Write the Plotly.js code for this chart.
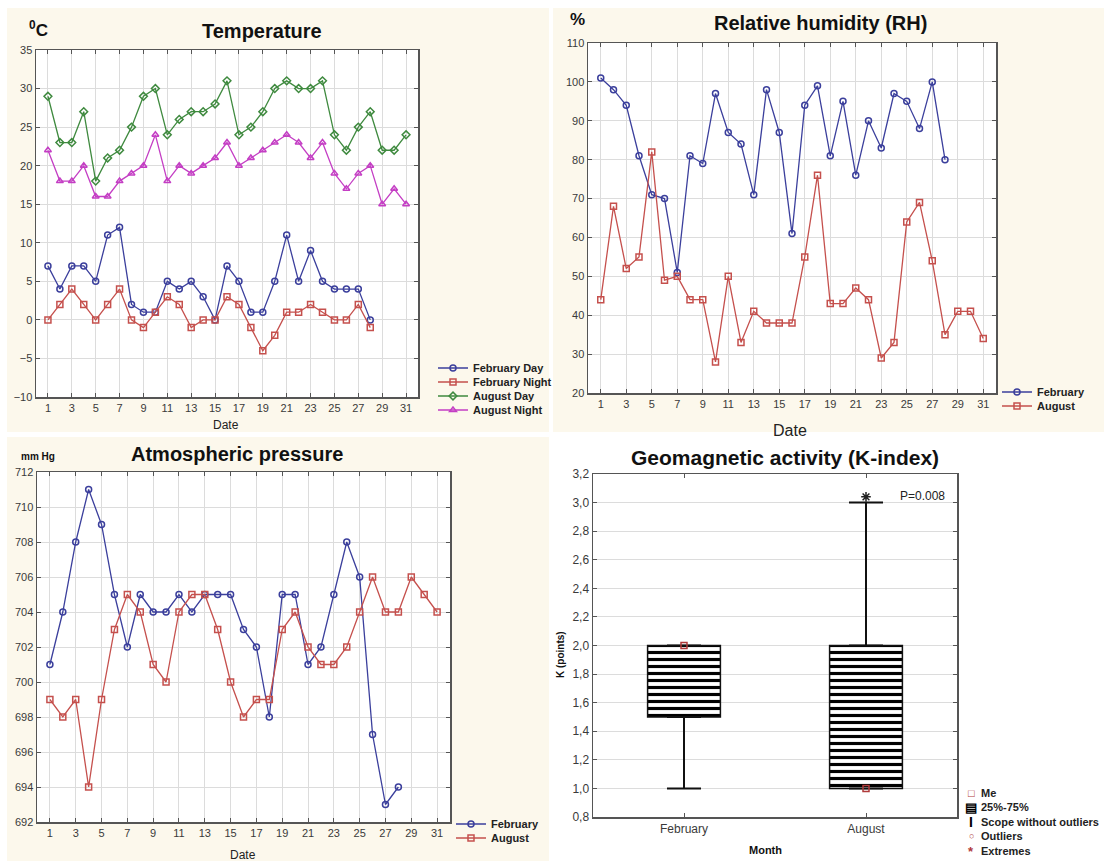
<!DOCTYPE html>
<html>
<head>
<meta charset="utf-8">
<script src="https://cdn.plot.ly/plotly-3.0.1.min.js"></script>
<style>html,body{margin:0;padding:0;background:#fff;}#chart{width:1104px;height:861px;}</style>
</head>
<body>
<div id="chart"></div>
<script>
// ---------- DATA ----------
const dates = [1,2,3,4,5,6,7,8,9,10,11,12,13,14,15,16,17,18,19,20,21,22,23,24,25,26,27,28,29,30,31];
const febDates = [1,2,3,4,5,6,7,8,9,10,11,12,13,14,15,16,17,18,19,20,21,22,23,24,25,26,27,28];

// Temperature, °C
const tempFebDay   = [7,4,7,7,5,11,12,2,1,1,5,4,5,3,0,7,5,1,1,5,11,5,9,5,4,4,4,0];
const tempFebNight = [0,2,4,2,0,2,4,0,-1,1,3,2,-1,0,0,3,2,-1,-4,-2,1,1,2,1,0,0,2,-1];
const tempAugDay   = [29,23,23,27,18,21,22,25,29,30,24,26,27,27,28,31,24,25,27,30,31,30,30,31,24,22,25,27,22,22,24];
const tempAugNight = [22,18,18,20,16,16,18,19,20,24,18,20,19,20,21,23,20,21,22,23,24,23,21,23,19,17,19,20,15,17,15];

// Relative humidity, %
const rhFeb = [101,98,94,81,71,70,51,81,79,97,87,84,71,98,87,61,94,99,81,95,76,90,83,97,95,88,100,80];
const rhAug = [44,68,52,55,82,49,50,44,44,28,50,33,41,38,38,38,55,76,43,43,47,44,29,33,64,69,54,35,41,41,34];

// Atmospheric pressure, mm Hg
const prFeb = [701,704,708,711,709,705,702,705,704,704,705,704,705,705,705,703,702,698,705,705,701,702,705,708,706,697,693,694];
const prAug = [699,698,699,694,699,703,705,704,701,700,704,705,705,703,700,698,699,699,703,704,702,701,701,702,704,706,704,704,706,705,704];

// Geomagnetic activity (K-index), box summary
const kMonths  = ['February','August'];
const kMin     = [1.0, 1.0];
const kQ1      = [1.5, 1.0];
const kMedian  = [2.0, 1.0];
const kQ3      = [2.0, 2.0];
const kMax     = [2.0, 3.0];
const kExtremeMonths = ['August'];
const kExtremes      = [3.04];

// ---------- STYLE ----------
const W = 1104, H = 861;
const X = v => v / W;
const Y = v => 1 - v / H;
const FONT = 'Liberation Sans, Arial, sans-serif';
const TICKFONT = {family: FONT, size: 11, color: '#3a3a3a'};
const CREAM = '#fcf8ec';
const BLUE = '#3b3f9c', RED = '#c5504d', GREEN = '#3f8a3f', MAGENTA = '#c43ec4';

function axisBase(extra) {
  return Object.assign({
    showline: true, linecolor: '#555', linewidth: 1.5, mirror: 'ticks',
    ticks: 'inside', ticklen: 4, tickcolor: '#555', tickwidth: 1,
    showgrid: true, gridcolor: '#dcdcdc', gridwidth: 1, zeroline: false,
    tickfont: TICKFONT, fixedrange: true
  }, extra);
}

function line(x, y, name, color, symbol, xa, ya, legendId) {
  return {
    type: 'scatter', mode: 'lines+markers', x: x, y: y, name: name,
    xaxis: xa, yaxis: ya, legend: legendId,
    line: {color: color, width: 1.3},
    marker: {symbol: symbol, size: 6, color: color, line: {color: color, width: 1.5}},
    cliponaxis: false
  };
}

const traces = [
  line(febDates, tempFebDay,   'February Day',   BLUE,    'circle-open',      'x',  'y',  'legend'),
  line(febDates, tempFebNight, 'February Night', RED,     'square-open',      'x',  'y',  'legend2'),
  line(dates,    tempAugDay,   'August Day',     GREEN,   'diamond-open',     'x',  'y',  'legend3'),
  line(dates,    tempAugNight, 'August Night',   MAGENTA, 'triangle-up-open', 'x',  'y',  'legend4'),
  line(febDates, rhFeb, 'February', BLUE, 'circle-open', 'x2', 'y2', 'legend5'),
  line(dates,    rhAug, 'August',   RED,  'square-open', 'x2', 'y2', 'legend6'),
  line(febDates, prFeb, 'February', BLUE, 'circle-open', 'x3', 'y3', 'legend7'),
  line(dates,    prAug, 'August',   RED,  'square-open', 'x3', 'y3', 'legend8'),
  // K-index box (25%-75%) as hatched bars
  {
    type: 'bar', x: kMonths, base: kQ1, y: kQ3.map((v, i) => v - kQ1[i]),
    xaxis: 'x4', yaxis: 'y4', width: 0.4, showlegend: false,
    marker: {color: '#ffffff', line: {color: '#111', width: 1.5},
             pattern: {shape: '-', fgcolor: '#000', bgcolor: '#fff', size: 7, solidity: 0.45, fillmode: 'replace'}}
  },
  // upper whiskers
  {
    type: 'scatter', mode: 'markers', x: kMonths, y: kQ3, xaxis: 'x4', yaxis: 'y4', showlegend: false,
    marker: {size: 1, color: 'rgba(0,0,0,0)'},
    error_y: {type: 'data', symmetric: false, array: kMax.map((v, i) => v - kQ3[i]), arrayminus: kQ3.map(() => 0),
              width: 17, thickness: 2, color: '#111'}
  },
  // lower whiskers
  {
    type: 'scatter', mode: 'markers', x: kMonths, y: kQ1, xaxis: 'x4', yaxis: 'y4', showlegend: false,
    marker: {size: 1, color: 'rgba(0,0,0,0)'},
    error_y: {type: 'data', symmetric: false, array: kQ1.map(() => 0), arrayminus: kQ1.map((v, i) => v - kMin[i]),
              width: 17, thickness: 2, color: '#111'}
  },
  // medians
  {
    type: 'scatter', mode: 'markers', x: kMonths, y: kMedian, xaxis: 'x4', yaxis: 'y4', showlegend: false,
    marker: {symbol: 'square-open', size: 6, color: '#b03a3a', line: {width: 1.5, color: '#b03a3a'}}
  },
  // extremes
  {
    type: 'scatter', mode: 'markers', x: kExtremeMonths, y: kExtremes, xaxis: 'x4', yaxis: 'y4', showlegend: false,
    marker: {symbol: 'asterisk-open', size: 8, color: '#222', line: {width: 1.5, color: '#222'}}
  }
];

function legendAt(xPx, yPx) {
  return {x: X(xPx), y: Y(yPx), xanchor: 'left', yanchor: 'middle', bgcolor: 'rgba(0,0,0,0)',
          borderwidth: 0, font: {family: FONT, size: 11, color: '#222', weight: 'bold'}, itemclick: false, itemdoubleclick: false};
}

function ann(text, xPx, yPx, size, opts) {
  return Object.assign({text: text, x: X(xPx), y: Y(yPx), xref: 'paper', yref: 'paper', showarrow: false,
    xanchor: 'center', yanchor: 'middle', font: {family: FONT, size: size, color: '#111'}}, opts || {});
}
const bold = (size, color) => ({family: FONT, size: size, color: color || '#111', weight: 'bold'});

const kLegendItems = [
  {sym: '□', color: '#b03a3a', text: 'Me', y: 793, size: 11},
  {sym: '▤', color: '#000', text: '25%-75%', y: 807, size: 13},
  {sym: 'I', color: '#000', text: 'Scope without outliers', y: 822, size: 14},
  {sym: '○', color: '#b03a3a', text: 'Outliers', y: 836, size: 9},
  {sym: '*', color: '#b03a3a', text: 'Extremes', y: 851, size: 13}
];

const annotations = [
  ann('Temperature', 262, 31, 20, {font: bold(20)}),
  ann('<sup>0</sup>C', 38, 29, 17, {font: bold(17), xanchor: 'center'}),
  ann('Relative humidity (RH)', 820, 23, 20, {font: bold(20)}),
  ann('%', 577, 19, 17, {font: bold(17)}),
  ann('Atmospheric pressure', 237, 454, 20, {font: bold(20)}),
  ann('mm Hg', 38, 456, 10, {font: bold(10)}),
  ann('Geomagnetic activity (K-index)', 785, 458, 21, {font: bold(21)}),
  ann('Date', 226, 425, 12, {font: {family: FONT, size: 12, color: '#222'}}),
  ann('Date', 790, 430, 16, {font: {family: FONT, size: 16, color: '#222'}}),
  ann('Date', 243, 855, 12, {font: {family: FONT, size: 12, color: '#222'}}),
  ann('Month', 765, 850, 11, {font: bold(11)}),
  ann('K (points)', 560, 655, 10, {font: bold(10), textangle: -90}),
  ann('P=0.008', 922, 496, 12, {font: {family: FONT, size: 12, color: '#222'}})
];
kLegendItems.forEach(it => {
  annotations.push(ann(it.sym, 971, it.y, it.size, {font: bold(it.size, it.color), xanchor: 'center'}));
  annotations.push(ann(it.text, 979, it.y, 11, {font: bold(11, '#222'), xanchor: 'left'}));
});

const panel = (x0, y0, x1, y1, color) => ({type: 'rect', xref: 'paper', yref: 'paper', layer: 'below',
  x0: X(x0), x1: X(x1), y0: Y(y1), y1: Y(y0), fillcolor: color, line: {width: 0}});
const plotBg = (xr, yr) => ({type: 'rect', xref: xr + ' domain', yref: yr + ' domain', layer: 'below',
  x0: 0, x1: 1, y0: 0, y1: 1, fillcolor: '#ffffff', line: {width: 0}});

const layout = {
  width: W, height: H, margin: {l: 0, r: 0, t: 0, b: 0},
  paper_bgcolor: '#ffffff', plot_bgcolor: '#ffffff',
  separators: ',.',
  showlegend: true,
  font: {family: FONT},
  xaxis:  axisBase({domain: [X(36), X(418)],  anchor: 'y',  range: [0, 32], tick0: 1, dtick: 2}),
  yaxis:  axisBase({domain: [Y(397), Y(50)],  anchor: 'x',  range: [-10, 35], dtick: 5}),
  xaxis2: axisBase({domain: [X(588), X(996)], anchor: 'y2', range: [0, 32], tick0: 1, dtick: 2}),
  yaxis2: axisBase({domain: [Y(393), Y(43)],  anchor: 'x2', range: [20, 110], dtick: 10}),
  xaxis3: axisBase({domain: [X(37), X(450)],  anchor: 'y3', range: [0, 32], tick0: 1, dtick: 2}),
  yaxis3: axisBase({domain: [Y(822), Y(472)], anchor: 'x3', range: [692, 712], dtick: 2}),
  xaxis4: axisBase({domain: [X(593), X(957)], anchor: 'y4', type: 'category', categoryarray: kMonths,
                    categoryorder: 'array', range: [-0.5, 1.5], showgrid: false,
                    tickfont: {family: FONT, size: 12, color: '#3a3a3a'}}),
  yaxis4: axisBase({domain: [Y(817), Y(474)], anchor: 'x4', range: [0.8, 3.2], tick0: 0.8, dtick: 0.2,
                    tickformat: '.1f', tickfont: {family: FONT, size: 12, color: '#3a3a3a'}}),
  legend:  legendAt(433, 368),
  legend2: legendAt(433, 382),
  legend3: legendAt(433, 396),
  legend4: legendAt(433, 410),
  legend5: legendAt(997, 392),
  legend6: legendAt(997, 406),
  legend7: legendAt(451, 824),
  legend8: legendAt(451, 838),
  shapes: [
    panel(7, 8, 549, 432, CREAM),
    panel(553, 8, 1104, 432, CREAM),
    panel(7, 437, 549, 861, CREAM),
    plotBg('x', 'y'), plotBg('x2', 'y2'), plotBg('x3', 'y3'), plotBg('x4', 'y4')
  ],
  annotations: annotations
};

Plotly.newPlot('chart', traces, layout, {displayModeBar: false, staticPlot: true});
</script>
</body>
</html>
